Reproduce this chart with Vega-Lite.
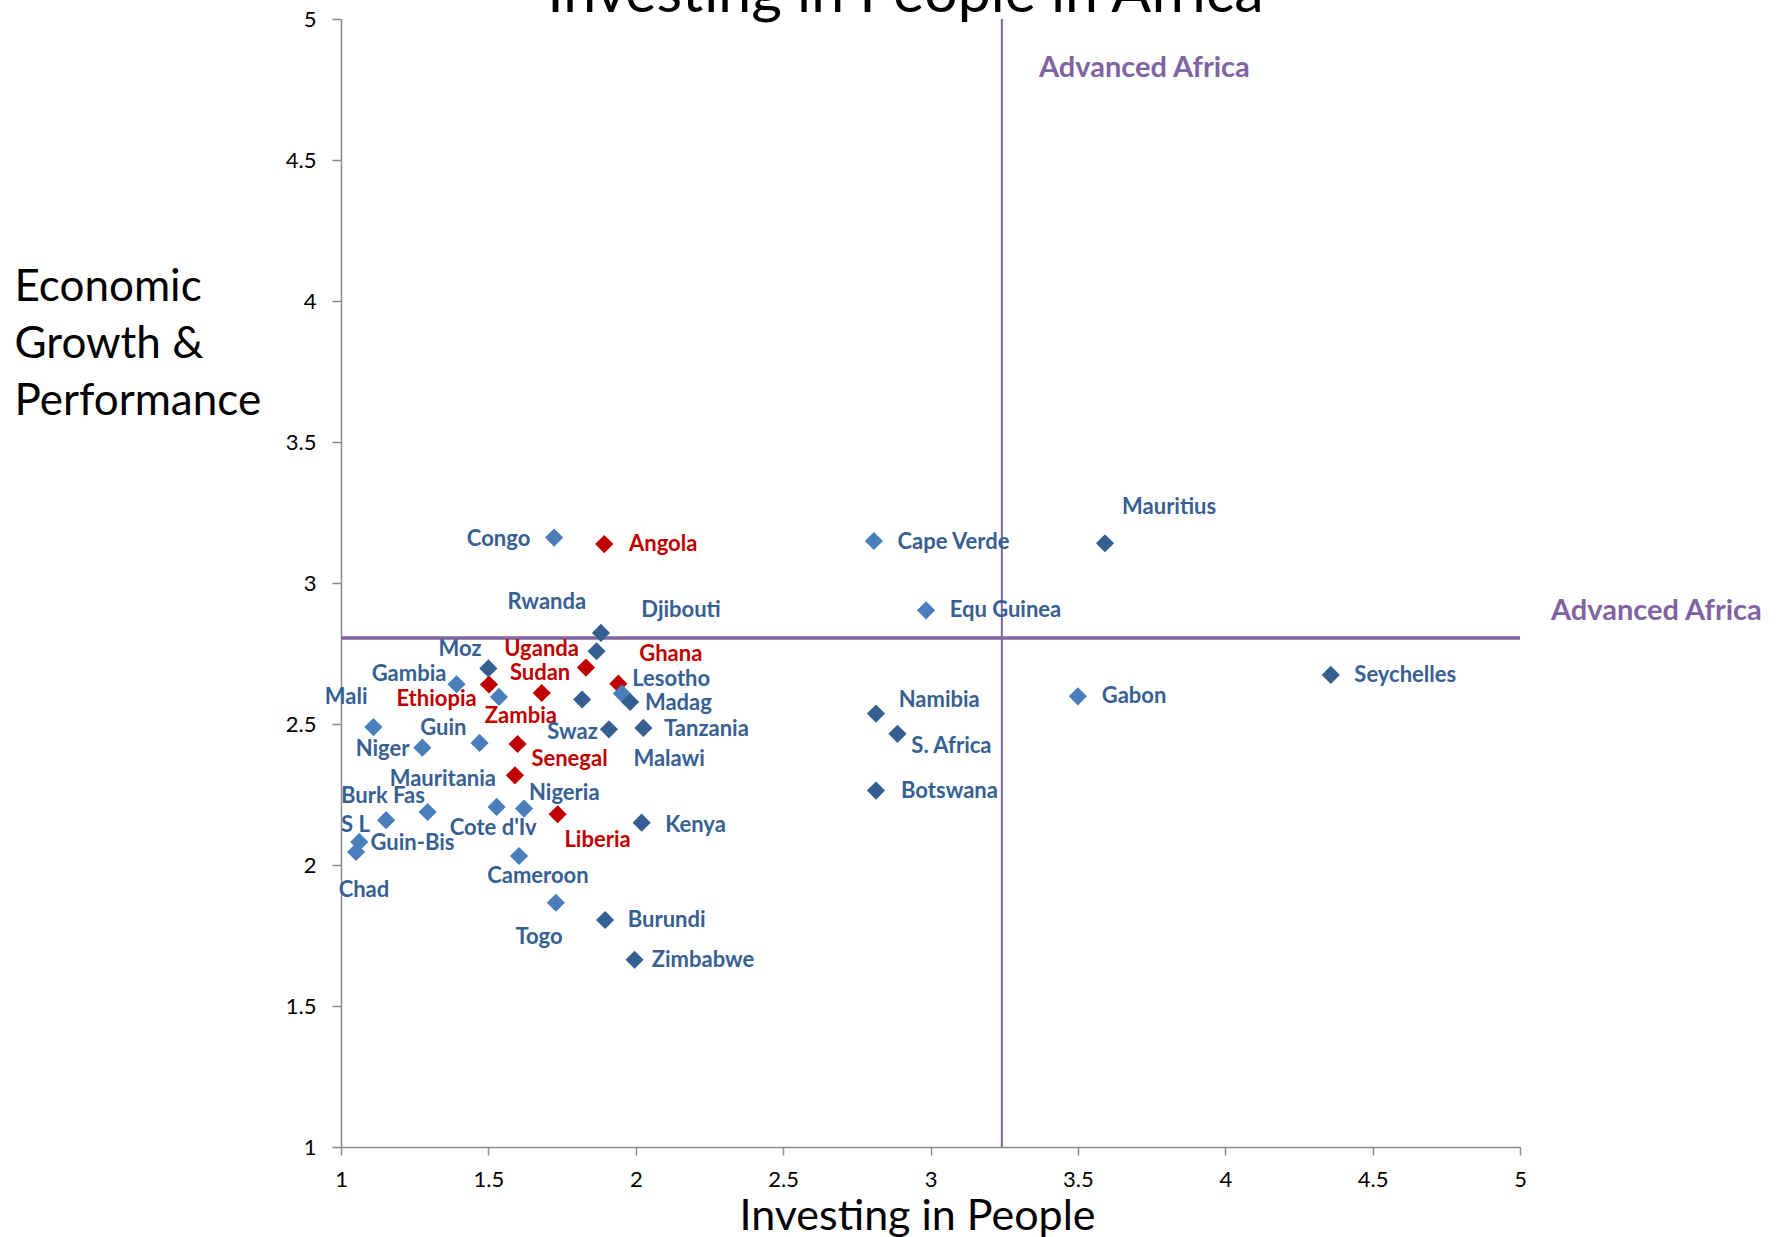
{
  "$schema": "https://vega.github.io/schema/vega-lite/v6.json",
  "width": 1179,
  "height": 1128,
  "autosize": {"type": "none"},
  "padding": {"left": 341, "top": 19, "right": 259, "bottom": 90},
  "background": "white",
  "config": {"view": {"stroke": null}},
  "datasets": {
    "countries": [
      {"country": "Angola", "ip": 1.893, "eg": 3.138, "series": "Focus", "lx": 1.977, "ly": 3.137},
      {"country": "Uganda", "ip": 1.831, "eg": 2.700, "series": "Focus", "lx": 1.554, "ly": 2.767},
      {"country": "Ethiopia", "ip": 1.502, "eg": 2.640, "series": "Focus", "lx": 1.188, "ly": 2.590},
      {"country": "Sudan", "ip": 1.681, "eg": 2.610, "series": "Focus", "lx": 1.573, "ly": 2.682},
      {"country": "Ghana", "ip": 1.941, "eg": 2.643, "series": "Focus", "lx": 2.012, "ly": 2.750},
      {"country": "Zambia", "ip": 1.599, "eg": 2.429, "series": "Focus", "lx": 1.488, "ly": 2.529},
      {"country": "Senegal", "ip": 1.590, "eg": 2.318, "series": "Focus", "lx": 1.646, "ly": 2.376},
      {"country": "Liberia", "ip": 1.735, "eg": 2.180, "series": "Focus", "lx": 1.758, "ly": 2.087},
      {"country": "Congo", "ip": 1.723, "eg": 3.161, "series": "Group B", "lx": 1.427, "ly": 3.157},
      {"country": "Rwanda", "ip": 1.882, "eg": 2.823, "series": "Group A", "lx": 1.565, "ly": 2.932},
      {"country": "Djibouti", "ip": 1.867, "eg": 2.758, "series": "Group A", "lx": 2.019, "ly": 2.903},
      {"country": "Moz", "ip": 1.500, "eg": 2.697, "series": "Group A", "lx": 1.331, "ly": 2.767},
      {"country": "Gambia", "ip": 1.392, "eg": 2.641, "series": "Group B", "lx": 1.104, "ly": 2.678},
      {"country": "Mali", "ip": 1.110, "eg": 2.489, "series": "Group B", "lx": 0.945, "ly": 2.594},
      {"country": "Guin", "ip": 1.536, "eg": 2.596, "series": "Group B", "lx": 1.269, "ly": 2.485},
      {"country": "Niger", "ip": 1.276, "eg": 2.416, "series": "Group B", "lx": 1.050, "ly": 2.412},
      {"country": "Mauritania", "ip": 1.470, "eg": 2.433, "series": "Group B", "lx": 1.165, "ly": 2.304},
      {"country": "Swaz", "ip": 1.818, "eg": 2.587, "series": "Group A", "lx": 1.700, "ly": 2.473},
      {"country": "Malawi", "ip": 1.909, "eg": 2.481, "series": "Group A", "lx": 1.992, "ly": 2.376},
      {"country": "Lesotho", "ip": 1.953, "eg": 2.608, "series": "Group B", "lx": 1.988, "ly": 2.658},
      {"country": "Madag", "ip": 1.981, "eg": 2.578, "series": "Group A", "lx": 2.031, "ly": 2.573},
      {"country": "Tanzania", "ip": 2.026, "eg": 2.486, "series": "Group A", "lx": 2.096, "ly": 2.481},
      {"country": "Burk Fas", "ip": 1.294, "eg": 2.188, "series": "Group B", "lx": 1.000, "ly": 2.243},
      {"country": "S L", "ip": 1.153, "eg": 2.159, "series": "Group B", "lx": 1.000, "ly": 2.143},
      {"country": "Guin-Bis", "ip": 1.062, "eg": 2.082, "series": "Group B", "lx": 1.100, "ly": 2.078},
      {"country": "Chad", "ip": 1.051, "eg": 2.046, "series": "Group B", "lx": 0.992, "ly": 1.913},
      {"country": "Cote d'Iv", "ip": 1.528, "eg": 2.206, "series": "Group B", "lx": 1.369, "ly": 2.131},
      {"country": "Nigeria", "ip": 1.621, "eg": 2.200, "series": "Group B", "lx": 1.638, "ly": 2.256},
      {"country": "Kenya", "ip": 2.020, "eg": 2.150, "series": "Group A", "lx": 2.100, "ly": 2.143},
      {"country": "Cameroon", "ip": 1.604, "eg": 2.032, "series": "Group B", "lx": 1.496, "ly": 1.962},
      {"country": "Togo", "ip": 1.729, "eg": 1.866, "series": "Group B", "lx": 1.592, "ly": 1.744},
      {"country": "Burundi", "ip": 1.896, "eg": 1.805, "series": "Group A", "lx": 1.973, "ly": 1.805},
      {"country": "Zimbabwe", "ip": 1.996, "eg": 1.664, "series": "Group A", "lx": 2.054, "ly": 1.664},
      {"country": "Cape Verde", "ip": 2.808, "eg": 3.149, "series": "Group B", "lx": 2.888, "ly": 3.145},
      {"country": "Mauritius", "ip": 3.592, "eg": 3.141, "series": "Group A", "lx": 3.650, "ly": 3.270},
      {"country": "Equ Guinea", "ip": 2.985, "eg": 2.903, "series": "Group B", "lx": 3.065, "ly": 2.903},
      {"country": "Namibia", "ip": 2.815, "eg": 2.537, "series": "Group A", "lx": 2.892, "ly": 2.586},
      {"country": "S. Africa", "ip": 2.888, "eg": 2.465, "series": "Group A", "lx": 2.935, "ly": 2.421},
      {"country": "Botswana", "ip": 2.815, "eg": 2.264, "series": "Group A", "lx": 2.900, "ly": 2.264},
      {"country": "Gabon", "ip": 3.500, "eg": 2.598, "series": "Group B", "lx": 3.581, "ly": 2.598},
      {"country": "Seychelles", "ip": 4.358, "eg": 2.674, "series": "Group A", "lx": 4.438, "ly": 2.674}
    ],
    "hline": [{"ip": 1, "ip2": 5, "eg": 2.805}],
    "vline": [{"ip": 3.242, "eg": 1, "eg2": 5}],
    "notes": [
      {"text": "Advanced Africa", "ip": 3.368, "eg": 4.825},
      {"text": "Advanced Africa", "ip": 5.105, "eg": 2.900}
    ],
    "heading": [{"text": "Investing in People in Africa", "ip": 2.915, "eg": 5.025}]
  },
  "layer": [
    {
      "data": {"name": "hline"},
      "mark": {"type": "rule", "color": "#8064A2", "strokeWidth": 3.5},
      "encoding": {
        "x": {"field": "ip", "type": "quantitative", "scale": {"domain": [1, 5], "nice": false, "zero": false},
          "axis": {"values": [1, 1.5, 2, 2.5, 3, 3.5, 4, 4.5, 5], "format": "~g", "grid": false, "domainColor": "#8a8a8a", "domainWidth": 1.5, "tickColor": "#8a8a8a", "tickWidth": 1.5, "tickSize": 8, "labelFont": "Lato", "labelFontSize": 22, "labelColor": "black", "labelPadding": 14, "labelFlush": false, "labelOverlap": false,
            "title": "Investing in People", "titleFont": "Lato", "titleFontSize": 43, "titleFontWeight": "normal", "titleColor": "black", "titleBaseline": "alphabetic", "titleX": 576, "titleY": 82}},
        "x2": {"field": "ip2"},
        "y": {"field": "eg", "type": "quantitative", "scale": {"domain": [1, 5], "nice": false, "zero": false},
          "axis": {"values": [1, 1.5, 2, 2.5, 3, 3.5, 4, 4.5, 5], "format": "~g", "grid": false, "domainColor": "#8a8a8a", "domainWidth": 1.5, "tickColor": "#8a8a8a", "tickWidth": 1.5, "tickSize": 9, "labelFont": "Lato", "labelFontSize": 22, "labelColor": "black", "labelPadding": 16, "labelFlush": false, "labelOverlap": false,
            "title": ["Economic", "Growth &", "Performance"], "titleFont": "Lato", "titleFontSize": 44, "titleFontWeight": "normal", "titleColor": "black", "titleAngle": 0, "titleAlign": "left", "titleBaseline": "top", "titleX": -327, "titleY": 246, "titleLineHeight": 57}}
      }
    },
    {
      "data": {"name": "vline"},
      "mark": {"type": "rule", "color": "#8064A2", "strokeWidth": 2},
      "encoding": {
        "x": {"field": "ip", "type": "quantitative"},
        "y": {"field": "eg", "type": "quantitative"},
        "y2": {"field": "eg2"}
      }
    },
    {
      "data": {"name": "countries"},
      "mark": {"type": "point", "shape": "diamond", "filled": true, "size": 330, "opacity": 1},
      "encoding": {
        "x": {"field": "ip", "type": "quantitative"},
        "y": {"field": "eg", "type": "quantitative"},
        "color": {"field": "series", "type": "nominal", "scale": {"domain": ["Focus", "Group A", "Group B"], "range": ["#C00000", "#365F91", "#4A7EBB"]}, "legend": null}
      }
    },
    {
      "data": {"name": "countries"},
      "mark": {"type": "text", "align": "left", "baseline": "middle", "font": "Lato", "fontSize": 22, "fontWeight": "bold"},
      "encoding": {
        "x": {"field": "lx", "type": "quantitative"},
        "y": {"field": "ly", "type": "quantitative"},
        "text": {"field": "country"},
        "color": {"condition": {"test": "datum.series === 'Focus'", "value": "#C00000"}, "value": "#376092"}
      }
    },
    {
      "data": {"name": "notes"},
      "mark": {"type": "text", "align": "left", "baseline": "middle", "font": "Lato", "fontSize": 29, "fontWeight": "bold", "color": "#8064A2"},
      "encoding": {
        "x": {"field": "ip", "type": "quantitative"},
        "y": {"field": "eg", "type": "quantitative"},
        "text": {"field": "text"}
      }
    },
    {
      "data": {"name": "heading"},
      "mark": {"type": "text", "align": "center", "baseline": "alphabetic", "font": "Lato", "fontSize": 59, "fontWeight": "normal", "color": "black"},
      "encoding": {
        "x": {"field": "ip", "type": "quantitative"},
        "y": {"field": "eg", "type": "quantitative"},
        "text": {"field": "text"}
      }
    }
  ]
}
